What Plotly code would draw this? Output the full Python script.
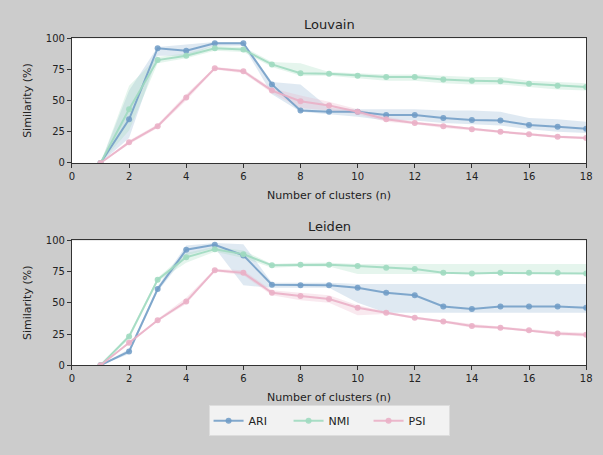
import plotly.graph_objects as go

n_clusters = list(range(1, 19))

# Louvain
ari_lv = [0, 35, 92, 90, 96, 96, 63, 42, 41, 41, 38.5, 38.5, 36, 34.5, 34, 30.5, 29, 27.5]
ari_lv_lo = [0, 20, 86, 86, 94, 94, 55, 41, 39, 37, 34, 34, 32, 31, 30, 27, 25, 24]
ari_lv_hi = [0, 58, 93, 95, 97, 97, 65, 63, 44, 43, 43, 43, 42, 42, 41, 36, 35, 33]
nmi_lv = [0, 43, 82.5, 86, 92, 91, 79, 72, 71.5, 70, 69, 69, 67, 66, 65.5, 63.5, 62, 61]
nmi_lv_lo = [0, 26, 80, 84, 90, 89, 77, 70, 70, 68, 66, 66, 64, 63, 63, 61, 59, 58]
nmi_lv_hi = [0, 62, 85, 88, 94, 93, 81, 80, 73, 72, 71, 71, 70, 69, 69, 66, 65, 64]
psi_lv = [0, 16.5, 29.5, 52.5, 76, 73.5, 58, 49.5, 46, 41, 35, 32, 29.5, 27, 25, 23, 21, 20]
psi_lv_lo = [0, 15, 28, 50, 75, 72, 56, 44, 42, 39, 33, 31, 28, 26, 24, 22, 20, 19]
psi_lv_hi = [0, 18, 31, 55, 77, 75, 60, 54, 49, 43, 37, 33, 31, 28, 26, 24, 22, 21]

# Leiden
ari_ld = [0, 11, 61, 92.5, 96.5, 88, 64.5, 64, 64, 62, 58, 56, 47, 45, 47, 47, 47, 46]
ari_ld_lo = [0, 9, 59, 88, 94, 64, 62, 62, 62, 50, 42, 42, 42, 42, 42, 42, 42, 42]
ari_ld_hi = [0, 13, 63, 96, 98, 97, 66, 66, 66, 65, 65, 65, 65, 65, 65, 65, 65, 65]
nmi_ld = [0, 23, 68.5, 86.5, 93, 89, 80, 80.5, 80.5, 79.5, 78, 77, 74, 73.5, 74, 74, 74, 73.5]
nmi_ld_lo = [0, 21, 67, 82, 91, 86, 78, 79, 79, 73, 73, 73, 73, 73, 73, 73, 73, 73]
nmi_ld_hi = [0, 25, 70, 90, 95, 92, 81, 82, 82, 81, 81, 81, 81, 81, 81, 81, 81, 81]
psi_ld = [0, 18, 36, 51, 76, 74, 58, 55.5, 53, 46, 42, 38, 35, 31.5, 30, 28, 25.5, 24.5]
psi_ld_lo = [0, 17, 35, 49, 75, 72, 56, 52, 50, 40, 41, 37, 34, 30, 29, 27, 24, 23]
psi_ld_hi = [0, 19, 37, 54, 77, 76, 60, 58, 56, 48, 43, 39, 36, 33, 31, 29, 27, 26]

x_ticks = list(range(0, 19, 2))
y_ticks = [0, 25, 50, 75, 100]

colors = {"ARI": "rgba(110,155,198,0.85)", "NMI": "rgba(160,218,192,0.9)", "PSI": "rgba(234,176,198,0.9)"}
fills = {"ARI": "rgba(110,155,198,0.22)", "NMI": "rgba(160,218,192,0.28)", "PSI": "rgba(234,176,198,0.28)"}

fig = go.Figure()

panels = [
    ("x", "y", {"ARI": (ari_lv, ari_lv_lo, ari_lv_hi), "NMI": (nmi_lv, nmi_lv_lo, nmi_lv_hi), "PSI": (psi_lv, psi_lv_lo, psi_lv_hi)}),
    ("x2", "y2", {"ARI": (ari_ld, ari_ld_lo, ari_ld_hi), "NMI": (nmi_ld, nmi_ld_lo, nmi_ld_hi), "PSI": (psi_ld, psi_ld_lo, psi_ld_hi)}),
]

for pi, (xa, ya, series) in enumerate(panels):
    for name, (vals, lo, hi) in series.items():
        fig.add_trace(go.Scatter(x=n_clusters, y=lo, xaxis=xa, yaxis=ya, mode="lines",
                                 line=dict(width=0, color=fills[name]), showlegend=False, hoverinfo="skip"))
        fig.add_trace(go.Scatter(x=n_clusters, y=hi, xaxis=xa, yaxis=ya, mode="lines", fill="tonexty",
                                 fillcolor=fills[name], line=dict(width=0, color=fills[name]),
                                 showlegend=False, hoverinfo="skip"))
    for name, (vals, lo, hi) in series.items():
        fig.add_trace(go.Scatter(x=n_clusters, y=vals, xaxis=xa, yaxis=ya, mode="lines+markers", name=name,
                                 line=dict(width=2, color=colors[name]),
                                 marker=dict(size=6, color=colors[name]),
                                 showlegend=(pi == 1), legendgroup=name))

font = dict(family="DejaVu Sans", size=10, color="#222222")
title_font = dict(family="DejaVu Sans", size=11, color="#222222")
axis_common = dict(showline=True, linecolor="#333333", linewidth=1, mirror=True, ticks="outside",
                   ticklen=4, tickcolor="#333333", showgrid=False, zeroline=False, tickfont=font)

W, H = 603, 455
# layout positions (pixels from top-left of the figure)
PX_L, PX_R = 70, 592
TOP1, BOT1 = 34, 161.5
TOP2, BOT2 = 240.7, 368.3
x0, x1 = PX_L / W, PX_R / W
fig.update_layout(
    width=W, height=H,
    margin=dict(l=0, r=0, t=0, b=0),
    paper_bgcolor="#cccccc", plot_bgcolor="white",
    font=font,
    xaxis=dict(domain=[x0, x1], range=[0, 18], tickvals=x_ticks, anchor="y",
               title=dict(text="Number of clusters (n)", font=title_font, standoff=10), **axis_common),
    yaxis=dict(domain=[1 - BOT1 / H, 1 - TOP1 / H], range=[0, 100], tickvals=y_ticks, anchor="x",
               title=dict(text="Similarity (%)", font=title_font, standoff=12), **axis_common),
    xaxis2=dict(domain=[x0, x1], range=[0, 18], tickvals=x_ticks, anchor="y2",
                title=dict(text="Number of clusters (n)", font=title_font, standoff=10), **axis_common),
    yaxis2=dict(domain=[1 - BOT2 / H, 1 - TOP2 / H], range=[0, 100], tickvals=y_ticks, anchor="x2",
                title=dict(text="Similarity (%)", font=title_font, standoff=12), **axis_common),
    legend=dict(orientation="h", x=331 / W, xanchor="center", y=1 - 425 / H, yanchor="middle",
                bgcolor="#f2f2f2", bordercolor="#dddddd", borderwidth=1, entrywidth=35,
                font=dict(family="DejaVu Sans", size=11, color="#222")),
    annotations=[
        dict(text="Louvain", x=(x0 + x1) / 2, y=1 - 19.5 / H, xref="paper", yref="paper", showarrow=False,
             font=dict(family="DejaVu Sans", size=13, color="#222"), yanchor="middle"),
        dict(text="Leiden", x=(x0 + x1) / 2, y=1 - 226.3 / H, xref="paper", yref="paper", showarrow=False,
             font=dict(family="DejaVu Sans", size=13, color="#222"), yanchor="middle"),
    ],
)

fig.write_html("out.html", config={"displayModeBar": False},
               post_script="document.body.style.margin='0';document.body.style.overflow='hidden';")
